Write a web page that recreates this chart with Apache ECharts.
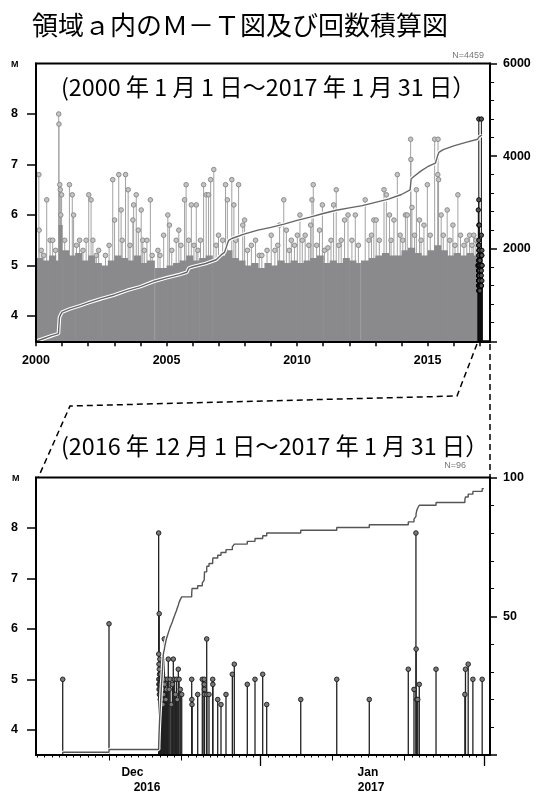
<!DOCTYPE html>
<html><head><meta charset="utf-8">
<script src="https://cdn.jsdelivr.net/npm/echarts@6/dist/echarts.min.js"></script>
<style>html,body{margin:0;padding:0;background:#fff}#c{width:546px;height:794px}</style>
</head><body><div id="c"></div>
<script>
// ---------------- DATA ----------------
const totalEvents = 4459;
const topYearTicks = [2000,2001,2002,2003,2004,2005,2006,2007,2008,2009,2010,2011,2012,2013,2014,2015,2016,2017];
const topYearLabels = [2000,2005,2010,2015];
const magTicks = [4,5,6,7,8];

// notable events (decimal year, M)
const topEvents = [[2000.11,6.8],[2000.12,5.7],[2000.41,6.3],[2000.54,5.5],[2000.64,5.5],[2000.87,8.0],[2000.88,7.8],[2000.91,6.6],[2000.93,6.5],[2000.95,6.0],[2000.98,6.4],[2001.28,6.6],[2001.39,6.4],[2001.44,6.0],[2001.67,5.5],[2001.92,5.5],[2002.02,6.4],[2002.11,6.3],[2002.18,5.5],[2002.31,5.2],[2002.66,5.2],[2002.94,6.7],[2003.01,5.9],[2003.17,6.8],[2003.26,6.1],[2003.43,6.8],[2003.53,6.5],[2003.71,5.9],[2003.74,6.2],[2003.84,6.4],[2003.92,5.7],[2004.03,6.1],[2004.09,5.5],[2004.25,5.5],[2004.38,6.3],[2004.67,5.3],[2004.89,5.6],[2005.05,6.0],[2005.11,5.8],[2005.37,5.5],[2005.47,5.7],[2005.69,6.3],[2005.75,6.6],[2005.95,6.2],[2006.14,6.2],[2006.20,5.3],[2006.42,6.6],[2006.52,6.4],[2006.61,6.4],[2006.69,6.7],[2006.81,6.9],[2006.99,5.6],[2007.26,6.6],[2007.33,6.3],[2007.50,6.7],[2007.58,6.2],[2007.76,6.6],[2007.92,5.8],[2007.99,5.9],[2008.25,5.4],[2008.41,5.5],[2008.65,5.2],[2009.01,5.6],[2009.26,5.4],[2009.33,5.8],[2009.49,6.3],[2009.59,5.7],[2009.78,5.5],[2010.01,5.6],[2010.11,6.0],[2010.31,5.6],[2010.52,5.8],[2010.57,6.3],[2010.62,6.6],[2010.86,5.7],[2010.97,6.2],[2011.18,5.35],[2011.40,6.2],[2011.50,6.5],[2011.69,5.5],[2011.82,5.9],[2011.95,6.0],[2012.23,6.0],[2012.61,6.3],[2012.94,5.9],[2013.03,5.9],[2013.33,6.5],[2013.42,6.4],[2013.54,6.0],[2013.71,5.9],[2013.84,6.8],[2014.15,6.0],[2014.22,6.0],[2014.35,7.5],[2014.36,7.1],[2014.40,6.15],[2014.57,6.5],[2014.69,5.9],[2014.86,5.8],[2014.99,6.6],[2015.27,7.5],[2015.39,6.8],[2015.40,7.5],[2015.42,6.7],[2015.52,6.0],[2015.75,6.1],[2015.97,5.8],[2016.16,6.4],[2016.26,5.6],[2016.39,5.4],[2016.61,5.6],[2016.77,5.6]];

// smaller events poking above the dense band
const topMinorEvents = [[2000.20,5.3],[2000.30,5.2],[2000.75,5.3],[2001.10,5.5],[2001.55,5.4],[2001.80,5.3],[2002.40,5.3],[2002.80,5.4],[2003.30,5.5],[2003.60,5.4],[2004.15,5.3],[2004.45,5.2],[2004.75,5.2],[2005.20,5.3],[2005.55,5.4],[2005.85,5.5],[2006.05,5.4],[2006.30,5.5],[2006.90,5.4],[2007.15,5.5],[2007.65,5.5],[2008.10,5.3],[2008.55,5.2],[2008.85,5.3],[2009.15,5.3],[2009.70,5.3],[2009.90,5.4],[2010.20,5.5],[2010.45,5.4],[2010.75,5.4],[2011.05,5.3],[2011.30,5.5],[2011.60,5.4],[2012.10,5.5],[2012.35,5.4],[2012.75,5.5],[2012.85,5.6],[2013.15,5.5],[2013.60,5.5],[2013.95,5.6],[2014.05,5.5],[2014.50,5.6],[2014.75,5.5],[2015.10,5.6],[2015.60,5.6],[2015.85,5.5],[2016.05,5.4],[2016.50,5.5],[2016.70,5.4],[2016.85,5.5]];

// dense band of small events: segment start years and band top (null = gap)
const wallStartYears = [2000.00,2000.25,2000.50,2000.75,2000.86,2001.00,2001.25,2001.50,2001.75,2002.00,2002.25,2002.50,2002.75,2003.00,2003.25,2003.50,2003.75,2004.00,2004.25,2004.53,2004.56,2004.75,2005.00,2005.25,2005.50,2005.75,2006.00,2006.25,2006.50,2006.75,2007.00,2007.25,2007.50,2007.75,2008.00,2008.25,2008.50,2008.75,2009.00,2009.25,2009.50,2009.75,2010.00,2010.25,2010.50,2010.75,2011.00,2011.25,2011.50,2011.75,2012.00,2012.25,2012.42,2012.45,2012.75,2013.00,2013.25,2013.50,2013.75,2014.00,2014.25,2014.50,2014.75,2015.00,2015.25,2015.50,2015.75,2016.00,2016.25,2016.50,2016.75,2016.917];
const wallTopMags = [5.15,5.1,5.2,5.1,5.8,5.3,5.2,5.25,5.1,5.2,5.05,5.0,5.1,5.2,5.15,5.1,5.2,5.05,5.1,null,4.95,4.95,5.0,5.05,5.1,5.2,5.1,5.15,5.2,5.1,5.2,5.3,5.15,5.1,5.0,5.05,4.95,5.05,5.0,5.1,5.05,5.1,5.05,5.1,5.15,5.2,5.05,5.1,5.05,5.15,5.1,5.05,null,5.1,5.15,5.2,5.25,5.2,5.2,5.3,5.35,5.25,5.2,5.3,5.4,5.3,5.2,5.25,5.2,5.25,5.2];

// cumulative count (upper panel) until 2016-12-01
const topCumYears  = [2000.00,2000.30,2000.60,2000.86,2000.875,2000.90,2000.95,2001.0,2001.3,2001.7,2002.0,2002.5,2003.0,2003.5,2004.0,2004.5,2005.0,2005.5,2005.78,2005.85,2006.0,2006.5,2006.9,2007.1,2007.22,2007.38,2007.5,2008.0,2008.5,2009.0,2009.5,2010.0,2010.5,2011.0,2011.5,2012.0,2012.5,2013.0,2013.5,2014.0,2014.33,2014.37,2014.5,2014.75,2015.0,2015.3,2015.38,2015.43,2015.6,2016.0,2016.5,2016.917];
const topCumCounts = [0,60,120,165,320,520,580,630,700,770,830,920,1000,1100,1180,1290,1370,1440,1490,1580,1610,1680,1760,1870,1920,2180,2220,2320,2400,2460,2530,2610,2680,2760,2830,2880,2930,3000,3070,3170,3270,3510,3570,3680,3770,3850,4000,4080,4140,4220,4300,4363];

// lower panel events (JST time, M)
const bottomEvents = [
['2016-12-04 12:00',5.0],['2016-12-10 22:20',6.1],
['2016-12-17 19:51',7.9],['2016-12-17 20:05',5.5],['2016-12-17 20:20',5.0],['2016-12-17 20:40',4.9],['2016-12-17 21:00',5.3],['2016-12-17 21:15',4.8],['2016-12-17 21:40',6.3],['2016-12-17 22:00',5.2],['2016-12-17 22:20',4.7],['2016-12-17 22:50',5.1],['2016-12-17 23:10',4.9],['2016-12-17 23:40',5.4],['2016-12-18 00:10',4.8],['2016-12-18 00:40',5.0],['2016-12-18 01:10',4.6],['2016-12-18 01:40',4.9],['2016-12-18 02:10',5.1],['2016-12-18 02:40',4.7],['2016-12-18 03:10',4.8],['2016-12-18 03:40',5.0],['2016-12-18 04:10',4.6],['2016-12-18 04:40',4.9],['2016-12-18 05:10',4.7],['2016-12-18 05:40',5.0],
['2016-12-18 06:30',4.8],['2016-12-18 07:00',5.0],['2016-12-18 07:30',4.6],['2016-12-18 08:00',4.9],['2016-12-18 08:40',5.1],['2016-12-18 09:10',4.7],['2016-12-18 09:40',4.9],['2016-12-18 10:10',4.5],['2016-12-18 10:40',5.0],['2016-12-18 11:10',4.8],
['2016-12-18 12:30',4.7],['2016-12-18 14:40',5.8],['2016-12-18 16:00',4.9],['2016-12-18 18:00',5.0],['2016-12-18 20:00',4.6],['2016-12-18 22:00',4.8],
['2016-12-19 01:00',5.0],['2016-12-19 04:00',5.4],['2016-12-19 07:00',4.8],['2016-12-19 10:00',5.0],['2016-12-19 14:00',4.5],
['2016-12-19 17:30',4.9],['2016-12-19 20:40',5.4],['2016-12-20 00:00',5.0],['2016-12-20 03:30',4.7],['2016-12-20 07:00',5.0],
['2016-12-20 10:00',4.6],['2016-12-20 13:20',5.2],['2016-12-20 16:00',5.0],['2016-12-20 20:00',4.8],['2016-12-21 00:40',4.7],
['2016-12-22 10:00',5.0],['2016-12-22 10:30',4.6],['2016-12-22 11:00',4.5],
['2016-12-23 06:00',4.7],['2016-12-23 21:20',5.0],
['2016-12-24 03:40',5.0],['2016-12-24 04:00',4.9],['2016-12-24 04:20',4.8],['2016-12-24 04:40',4.7],
['2016-12-24 12:00',5.8],['2016-12-24 12:30',4.7],['2016-12-24 19:40',4.7],
['2016-12-25 08:00',5.0],['2016-12-25 08:30',4.9],
['2016-12-26 00:40',4.6],['2016-12-26 11:40',4.5],['2016-12-27 04:20',4.7],
['2016-12-28 01:30',5.1],['2016-12-28 08:00',5.3],
['2016-12-30 03:20',4.9],['2016-12-31 05:00',5.0],
['2017-01-01 06:40',5.1],['2017-01-01 20:00',4.5],
['2017-01-06 13:30',4.6],['2017-01-11 13:30',5.0],['2017-01-16 02:00',4.6],['2017-01-21 12:00',5.2],['2017-01-22 07:00',4.8],['2017-01-22 13:30',7.9],['2017-01-22 14:10',5.6],['2017-01-22 16:00',4.6],['2017-01-22 19:30',4.6],['2017-01-23 00:40',4.9],['2017-01-25 08:30',5.2],['2017-01-29 08:40',4.7],['2017-01-29 10:40',5.2],['2017-01-29 19:40',5.3],['2017-01-30 11:20',5.0],['2017-01-31 18:20',5.0]
];
const bottomPeriodStart = '2016-12-01 00:00';
const bottomPeriodEnd = '2017-02-01 00:00';
const bottomTenDayTicks = ['2016-12-11 00:00','2016-12-21 00:00','2017-01-11 00:00','2017-01-21 00:00'];
const bottomMonthTicks = ['2017-01-01 00:00','2017-02-01 00:00'];
const monthLabelTimes = ['2016-12-14 04:30','2017-01-15 21:30'];
const monthLabels = ['Dec','Jan'];
const yearLabelTimes = ['2016-12-16 05:00','2017-01-16 08:00'];
const yearLabels = ['2016','2017'];

// ---------------- HELPERS ----------------
const M_MIN = 3.5, M_MAX = 9;
function utc(s){const [d,t]=s.split(' ');const [Y,Mo,D]=d.split('-').map(Number);const [h,mi]=(t||'00:00').split(':').map(Number);return Date.UTC(Y,Mo-1,D,h,mi);}
function decYear(ms){const Y=new Date(ms).getUTCFullYear();const a=Date.UTC(Y,0,1),b=Date.UTC(Y+1,0,1);return Y+(ms-a)/(b-a);}
const DAY = 86400000;
const bMin = utc(bottomPeriodStart) - 0.21*DAY;
const bMax = bMin + 63.06*DAY;

const bEv = bottomEvents.map(e=>[utc(e[0]), e[1]]).sort((a,b)=>a[0]-b[0]);
const bCum = [[bMin,0]];
bEv.forEach((e,i)=>bCum.push([e[0], i+1]));
bCum.push([utc(bottomPeriodEnd), bEv.length]);

const topBase = totalEvents - bEv.length;
const tCum = topCumYears.map((y,i)=>[y, topCumCounts[i]]);
bEv.forEach((e,i)=>tCum.push([decYear(e[0]), topBase+i+1]));
const topBlack = bEv.map(e=>[decYear(e[0]), e[1]]);
const topGray = topMinorEvents.concat(topEvents);

const wallData = [];
for(let i=0;i<wallStartYears.length-1;i++){ if(wallTopMags[i]!=null) wallData.push([wallStartYears[i], wallStartYears[i+1], wallTopMags[i]]); }

const dayTicks = [];
for(let t=utc(bottomPeriodStart); t<=utc(bottomPeriodEnd); t+=DAY) dayTicks.push(t);

function stemLine(color, lw){
  return function(params, api){
    const x=api.value(0), m=api.value(1);
    const p=api.coord([x,m]), b=api.coord([x,M_MIN]);
    return {type:'line', shape:{x1:p[0],y1:b[1],x2:p[0],y2:p[1]}, style:{stroke:color,lineWidth:lw}};
  };
}
function stemDot(fill, stroke, r){
  return function(params, api){
    const p=api.coord([api.value(0),api.value(1)]);
    return {type:'circle', shape:{cx:p[0],cy:p[1],r:r}, style:{fill:fill,stroke:stroke,lineWidth:0.9}};
  };
}
function cs(xi, yi, data, fn){ return {type:'custom', xAxisIndex:xi, yAxisIndex:yi, clip:true, silent:true, data:data, encode:{x:0,y:1}, renderItem:fn}; }

const AX = {fontFamily:'Liberation Sans', fontWeight:'bold', fontSize:12.5, color:'#000'};
const axLine = {show:true, lineStyle:{color:'#000', width:2}};
const cjk = 'Noto Sans CJK JP';

function magAxis(grid){
  return {gridIndex:grid, type:'value', min:M_MIN, max:M_MAX, position:'left', z:10,
    axisLine:axLine, axisTick:{show:true, customValues:magTicks, length:9, lineStyle:{color:'#000',width:1.5}},
    axisLabel:Object.assign({customValues:magTicks, margin:18, formatter:v=>String(v)}, AX),
    splitLine:{show:false}};
}
function countAxis(grid, max, interval){
  return {gridIndex:grid, type:'value', min:0, max:max, interval:interval, position:'right', z:10,
    axisLine:axLine, axisTick:{show:true, length:7, lineStyle:{color:'#000',width:1.5}},
    minorTick:{show:true, splitNumber:5, length:4, lineStyle:{color:'#000',width:1}},
    axisLabel:Object.assign({showMinLabel:false, margin:13, formatter:v=>String(v)}, AX),
    splitLine:{show:false}, minorSplitLine:{show:false}};
}
function bAxis(extra){
  return Object.assign({gridIndex:1, type:'value', position:'bottom', offset:0, min:bMin, max:bMax, z:10, splitLine:{show:false}, axisLine:{show:false}, axisLabel:{show:false}, axisTick:{show:false}}, extra);
}
const mLabelVals = monthLabelTimes.map(utc), yLabelVals = yearLabelTimes.map(utc);

const option = {
  animation:false,
  backgroundColor:'#fff',
  useUTC:true,
  title:[
    {text:'領域ａ内のＭ－Ｔ図及び回数積算図', left:32, top:12, padding:0, textStyle:{fontFamily:cjk, fontSize:26, lineHeight:26, fontWeight:'normal', color:'#000'}},
    {text:'(2000 年 1 月 1 日～2017 年 1 月 31 日）', left:61, top:75.5, padding:0, textStyle:{fontFamily:cjk, fontSize:23.3, lineHeight:23, fontWeight:'normal', color:'#000'}},
    {text:'N='+totalEvents, right:62, top:51.5, padding:0, textStyle:{fontFamily:'Liberation Sans', fontSize:9, lineHeight:9, fontWeight:'normal', color:'#777'}},
    {text:'M', left:11, top:60.5, padding:0, textStyle:{fontFamily:'Liberation Sans', fontSize:9, lineHeight:9, fontWeight:'bold', color:'#000'}},
    {text:'(2016 年 12 月 1 日～2017 年 1 月 31 日）', left:61, top:434.5, padding:0, textStyle:{fontFamily:cjk, fontSize:23.3, lineHeight:23, fontWeight:'normal', color:'#000'}},
    {text:'N='+bEv.length, right:80, top:461, padding:0, textStyle:{fontFamily:'Liberation Sans', fontSize:9, lineHeight:9, fontWeight:'normal', color:'#777'}},
    {text:'M', left:12, top:474.5, padding:0, textStyle:{fontFamily:'Liberation Sans', fontSize:9, lineHeight:9, fontWeight:'bold', color:'#000'}}
  ],
  grid:[
    {left:36, top:63.5, width:454, height:277.75, show:true, borderColor:'#000', borderWidth:2, backgroundColor:'transparent'},
    {left:36, top:477.5, width:454, height:277.75, show:true, borderColor:'#000', borderWidth:2, backgroundColor:'transparent'}
  ],
  xAxis:[
    {gridIndex:0, type:'value', position:'bottom', min:2000, max:2017.39, z:10, axisLine:axLine,
     axisTick:{show:true, customValues:topYearTicks, length:5, lineStyle:{color:'#000',width:1.5}},
     axisLabel:Object.assign({customValues:topYearLabels, margin:13, formatter:v=>String(v)}, AX),
     splitLine:{show:false}},
    bAxis({axisLine:axLine, axisTick:{show:true, customValues:dayTicks, length:2.5, lineStyle:{color:'#000',width:1}}}),
    bAxis({axisTick:{show:true, customValues:bottomTenDayTicks.map(utc), length:5.5, lineStyle:{color:'#000',width:1}}}),
    bAxis({axisTick:{show:true, customValues:bottomMonthTicks.map(utc), length:11, lineStyle:{color:'#000',width:1.3}},
      axisLabel:Object.assign({show:true, customValues:mLabelVals, margin:12, formatter:v=>{const i=mLabelVals.indexOf(v);return i>=0?monthLabels[i]:'';}}, AX, {fontSize:12})}),
    bAxis({axisLabel:Object.assign({show:true, customValues:yLabelVals, margin:27, formatter:v=>{const i=yLabelVals.indexOf(v);return i>=0?yearLabels[i]:'';}}, AX, {fontSize:12})})
  ],
  yAxis:[ magAxis(0), countAxis(0, 6000, 2000), magAxis(1), countAxis(1, 100, 50) ],
  series:[
    cs(0,0,topGray, stemLine('#a2a2a2',1)),
    {type:'custom', xAxisIndex:0, yAxisIndex:0, clip:true, silent:true, data:wallData, encode:{x:[0,1], y:2},
     renderItem:(p,api)=>{const a=api.coord([api.value(0),api.value(2)]), b=api.coord([api.value(1),M_MIN]);
       return {type:'rect', shape:{x:a[0], y:a[1], width:b[0]-a[0]+0.6, height:b[1]-a[1]}, style:{fill:'#8a8a8c'}};}},
    cs(0,0,topGray, stemDot('#c4c4c4','#858585',2.3)),
    cs(0,0,topBlack, stemLine('#111',1)),
    cs(0,0,topBlack, stemDot('#555','#000',2.2)),
    {type:'line', xAxisIndex:0, yAxisIndex:1, data:tCum, showSymbol:false, silent:true, lineStyle:{color:'#fff', width:3.6}},
    {type:'line', xAxisIndex:0, yAxisIndex:1, data:tCum, showSymbol:false, silent:true, lineStyle:{color:'#666', width:1.4}},
    cs(1,2,bEv, stemLine('#222',1.3)),
    cs(1,2,bEv, stemDot('#7a7a7a','#1a1a1a',2.3)),
    {type:'line', xAxisIndex:1, yAxisIndex:3, data:bCum, step:'end', showSymbol:false, silent:true, lineStyle:{color:'#fff', width:3.6}},
    {type:'line', xAxisIndex:1, yAxisIndex:3, data:bCum, step:'end', showSymbol:false, silent:true, lineStyle:{color:'#555', width:1.4}}
  ],
  graphic:[
    {type:'polyline', silent:true, z:100, shape:{points:[[477,344],[457,396],[70,406],[38,478]]}, style:{stroke:'#000', lineWidth:1.5, lineDash:[6,4], fill:null}},
    {type:'line', silent:true, z:100, shape:{x1:490, y1:344, x2:490, y2:477}, style:{stroke:'#000', lineWidth:1.5, lineDash:[6,4]}}
  ]
};
const chart = echarts.init(document.getElementById('c'), null, {renderer:'canvas', useUTC:true});
chart.setOption(option);
</script></body></html>
